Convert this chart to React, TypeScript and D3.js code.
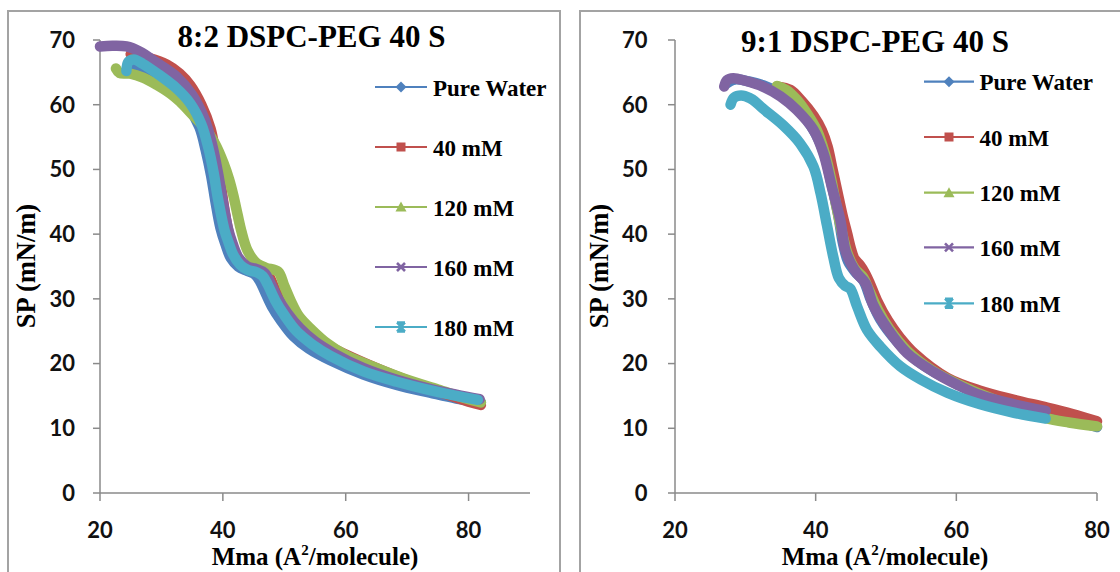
import React from 'react';
import * as d3 from 'd3';

type Pt = [number, number];

const seriesNames = ['Pure Water', '40 mM', '120 mM', '160 mM', '180 mM'];
const seriesColors = ['#4F81BD', '#C0504D', '#9BBB59', '#8064A2', '#4BACC6'];
const markerShapes = ['diamond', 'square', 'triangle', 'x', 'star'];

const xTickValues = [20, 40, 60, 80];
const yTickValues = [0, 10, 20, 30, 40, 50, 60, 70];

// ---- Left panel: 8:2 DSPC-PEG 40 S ----
const left82PureWater: Pt[] = [[25,65.8],[27,65.5],[29.5,64],[32.5,61.8],[34.5,59.5],[36.2,56.5],[37.2,53],[38.1,49],[38.8,45],[39.6,41],[40.4,38.5],[41.3,36.3],[42.5,35],[44,34.3],[45.2,33.8],[46,32.8],[46.8,31.2],[48,28.8],[49.5,26.6],[51.5,24.2],[54,22.3],[57.5,20.5],[62.9,18.3],[68.3,16.7],[73.7,15.5],[78,14.6],[82,14]];
const left82mM40: Pt[] = [[25,67.8],[28,67.2],[30.9,66.2],[33,64.8],[34.7,63],[36.5,60],[38,56.3],[38.8,52.5],[39.6,48],[40.3,43.5],[41,40],[41.8,37.5],[42.8,35.6],[44,34.8],[45.5,34.6],[46.8,34.6],[47.7,33.2],[48.8,30.8],[50.2,28.4],[52,26.2],[55,23.8],[60,21.4],[65,19.3],[70,17.4],[75,15.7],[80,14.1],[82,13.6]];
const left82mM120: Pt[] = [[22.6,65.6],[23.2,64.9],[24.9,64.8],[27,64.2],[29.2,63.1],[31.5,61.7],[33,60.5],[35,58.5],[37,56.5],[38.7,54],[40.1,51],[41,48.5],[41.7,46],[42.4,43],[43,40.5],[44,37.5],[45.5,35.5],[47,34.8],[49,34.2],[50,32],[51,29.8],[52.4,27.3],[54.5,25.2],[57,23.1],[60,21.3],[65,19.3],[70,17.5],[75,16],[80,14.5],[82,14]];
const left82mM160: Pt[] = [[20,69],[22,69.1],[24.3,69],[26.5,68.2],[29.2,66.5],[32.5,64.3],[35,61.5],[37,57.8],[38.2,54],[39.2,49.5],[40,45],[40.8,41],[41.6,38.5],[42.6,36.3],[44,35],[45.5,34.6],[46.8,34],[47.8,32.3],[49,30],[50.5,27.8],[52.5,25.5],[55,23.4],[58,21.6],[62.9,19.3],[68.3,17.5],[73.7,16.1],[78,15.2],[81.8,14.5]];
const left82mM180: Pt[] = [[24.3,65.2],[24.6,66.6],[25.5,67],[27,66.3],[29.2,64.9],[32.5,62.5],[34.7,60.2],[36.5,57],[37.6,53.5],[38.5,49.5],[39.2,45.5],[40.3,40.5],[40.9,38.8],[41.6,37],[42.8,35.3],[44,34.5],[45.5,34.1],[46.5,33.5],[47.3,32.2],[48.5,29.8],[50,27.5],[52,25],[54.5,23],[57.5,21.2],[62.9,18.8],[68.3,17.2],[73.7,15.9],[78,15],[81.5,14.4]];

// ---- Right panel: 9:1 DSPC-PEG 40 S ----
const right91PureWater: Pt[] = [[27.2,63.2],[28.5,63.9],[30.5,63.6],[32.5,63],[34.5,62],[36.5,60.4],[38.5,58],[40,55.5],[41.2,52.5],[42.2,48],[43.2,43],[43.9,38.5],[44.6,35.8],[45.6,34.2],[46.8,32.8],[47.8,30],[49.2,26.8],[51.5,23.5],[54.5,20.4],[58,18],[62,15.9],[67,14.1],[72,12.6],[76,11.5],[80,10.2]];
const right91mM40: Pt[] = [[34.6,62.8],[36.4,62.3],[38,60.6],[39.7,58.3],[40.9,56],[41.7,53.5],[42.4,50],[43.1,46.5],[43.8,43],[44.5,40],[45,37.8],[45.5,36.2],[46.3,35.2],[47,34],[47.7,32.4],[48.7,29.8],[50.3,26.6],[52,24],[54,21.6],[58.7,17.8],[63.4,15.8],[68.2,14.4],[72.9,13.2],[76.5,12.2],[80,11.1]];
const right91mM120: Pt[] = [[34.5,62.9],[35.8,62.3],[37.3,60.8],[38.8,58.6],[40.2,56],[41.3,52.5],[42.2,48.5],[43,44],[43.8,40],[44.6,36.8],[45.6,34.6],[46.7,33.4],[47.6,31.3],[48.8,28.4],[50.5,25.3],[53,22],[56.5,19],[60.5,16.7],[65,14.6],[70,12.7],[72.7,11.6],[76,10.9],[80,10.3]];
const right91mM160: Pt[] = [[27,62.8],[27.4,63.8],[28.3,64.1],[30,63.7],[32.5,62.8],[35,61.3],[37.3,59.2],[39.7,56.1],[41.1,52.5],[42.3,47.3],[43.5,42.2],[44.2,37.6],[45,35.5],[45.9,33.9],[47.1,32.4],[48.2,29],[50.2,25.4],[53,21.6],[56.8,18.7],[60,16.8],[63.4,15.1],[68.2,13.7],[72.7,12.7]];
const right91mM180: Pt[] = [[27.9,60],[28.4,61.1],[29.7,61.4],[31,60.8],[32.5,59.4],[35.4,56.8],[37.8,54],[39.7,50.4],[40.7,46.3],[41.6,41.4],[42.5,36.5],[43.3,33.2],[44.2,32],[44.9,31.6],[45.9,28.8],[47.3,25.2],[49.2,22.6],[52,19.6],[55,17.5],[58.7,15.5],[63.4,13.7],[68.2,12.4],[72.7,11.5]];

const SERIF = "'Liberation Serif', 'DejaVu Serif', serif";
const SANS = "Lato, 'Liberation Sans', Arial, sans-serif";

interface PanelProps {
  title: string;
  titleX: number;
  titleY: number;
  xDomain: [number, number];
  xRange: [number, number];
  yTitleX: number;
  xTitleX: number;
  tickLabelRight: number;
  legendLineX: [number, number];
  legendTextX: number;
  legendYs: number[];
  series: Pt[][];
}

function Marker({ shape, x, y, color }: { shape: string; x: number; y: number; color: string }) {
  switch (shape) {
    case 'diamond':
      return <path d={`M${x},${y - 5.5}L${x + 5.5},${y}L${x},${y + 5.5}L${x - 5.5},${y}Z`} fill={color} />;
    case 'square':
      return <rect x={x - 4.5} y={y - 4.5} width={9} height={9} fill={color} />;
    case 'triangle':
      return <path d={`M${x},${y - 5.5}L${x + 5.5},${y + 4.5}L${x - 5.5},${y + 4.5}Z`} fill={color} />;
    case 'x':
      return (
        <path d={`M${x - 4},${y - 4}L${x + 4},${y + 4}M${x + 4},${y - 4}L${x - 4},${y + 4}`} stroke={color} strokeWidth={2.6} />
      );
    default:
      return (
        <path
          d={`M${x - 4},${y - 4.5}L${x + 4},${y + 4.5}M${x + 4},${y - 4.5}L${x - 4},${y + 4.5}M${x - 4},${y - 4.5}L${x + 4},${y - 4.5}M${x - 4},${y + 4.5}L${x + 4},${y + 4.5}M${x},${y - 4.5}L${x},${y + 4.5}`}
          stroke={color}
          strokeWidth={2.4}
        />
      );
  }
}

function Panel(p: PanelProps) {
  const x = d3.scaleLinear().domain(p.xDomain).range(p.xRange);
  const y = d3.scaleLinear().domain([0, 70]).range([493, 40]);
  const line = d3
    .line<Pt>()
    .x((d) => x(d[0]))
    .y((d) => y(d[1]))
    .curve(d3.curveCatmullRom.alpha(0.5));
  const axisColor = '#8a8a8a';
  const [x0, x1] = p.xRange;
  return (
    <g>
      <line x1={x0} y1={y(0)} x2={x1} y2={y(0)} stroke={axisColor} strokeWidth={1.5} />
      <line x1={x0} y1={y(0)} x2={x0} y2={y(70)} stroke={axisColor} strokeWidth={1.5} />
      {yTickValues.map((t) => (
        <g key={'y' + t}>
          <line x1={x0 - 7} x2={x0} y1={y(t)} y2={y(t)} stroke={axisColor} strokeWidth={1.5} />
          <text x={p.tickLabelRight} y={y(t)} dy="0.36em" textAnchor="end" fontFamily={SANS} fontWeight={700} fontSize={22} fill="#111">
            {t}
          </text>
        </g>
      ))}
      {xTickValues.map((t) => (
        <g key={'x' + t}>
          <line x1={x(t)} x2={x(t)} y1={y(0)} y2={y(0) + 8} stroke={axisColor} strokeWidth={1.5} />
          <text x={x(t)} y={538} textAnchor="middle" fontFamily={SANS} fontWeight={700} fontSize={22} fill="#111">
            {t}
          </text>
        </g>
      ))}
      {p.series.map((s, i) => (
        <path
          key={'s' + i}
          d={line(s) || ''}
          fill="none"
          stroke={seriesColors[i]}
          strokeWidth={10.5}
          strokeLinecap="round"
          strokeLinejoin="round"
        />
      ))}
      <text x={p.titleX} y={p.titleY} textAnchor="middle" style={{ fontFamily: SERIF }} fontWeight={700} fontSize={31} fill="#000">
        {p.title}
      </text>
      <text x={p.xTitleX} y={565} textAnchor="middle" style={{ fontFamily: SERIF }} fontWeight={700} fontSize={25} fill="#000">
        Mma (A<tspan fontSize={15} dy={-10}>2</tspan>
        <tspan dy={10}>/molecule)</tspan>
      </text>
      <text
        transform={`translate(${p.yTitleX},266) rotate(-90)`}
        textAnchor="middle"
        style={{ fontFamily: SERIF }}
        fontWeight={700}
        fontSize={26.5}
        fill="#000"
      >
        SP (mN/m)
      </text>
      {seriesNames.map((n, i) => {
        const ly = p.legendYs[i];
        const mx = (p.legendLineX[0] + p.legendLineX[1]) / 2;
        return (
          <g key={'l' + i}>
            <line x1={p.legendLineX[0]} x2={p.legendLineX[1]} y1={ly} y2={ly} stroke={seriesColors[i]} strokeWidth={2.2} />
            <Marker shape={markerShapes[i]} x={mx} y={ly} color={seriesColors[i]} />
            <text x={p.legendTextX} y={ly + 8.7} style={{ fontFamily: SERIF }} fontWeight={700} fontSize={23} fill="#000">
              {n}
            </text>
          </g>
        );
      })}
    </g>
  );
}

export default function App() {
  const frame = '#a3a3a3';
  return (
    <svg width={1120} height={572} viewBox="0 0 1120 572" style={{ position: 'absolute', left: 0, top: 0, background: '#fff' }}>
      <rect x={0} y={0} width={1120} height={572} fill="#fff" />
      <path d="M8,580 L8,11 L560,11 L560,580" fill="none" stroke={frame} strokeWidth={2} />
      <path d="M580,580 L580,11 L1130,11" fill="none" stroke={frame} strokeWidth={2} />
      <Panel
        title="8:2 DSPC-PEG 40 S"
        titleX={311.5}
        titleY={47}
        xDomain={[20, 90]}
        xRange={[100, 530]}
        yTitleX={35}
        xTitleX={315}
        tickLabelRight={75}
        legendLineX={[375, 427]}
        legendTextX={433}
        legendYs={[87, 147, 207, 267, 327]}
        series={[left82PureWater, left82mM40, left82mM120, left82mM160, left82mM180]}
      />
      <Panel
        title="9:1 DSPC-PEG 40 S"
        titleX={875}
        titleY={52}
        xDomain={[20, 80]}
        xRange={[675, 1097]}
        yTitleX={608}
        xTitleX={885}
        tickLabelRight={647.5}
        legendLineX={[924, 974]}
        legendTextX={979.5}
        legendYs={[81.7, 137, 192.7, 247.3, 303.3]}
        series={[right91PureWater, right91mM40, right91mM120, right91mM160, right91mM180]}
      />
    </svg>
  );
}
